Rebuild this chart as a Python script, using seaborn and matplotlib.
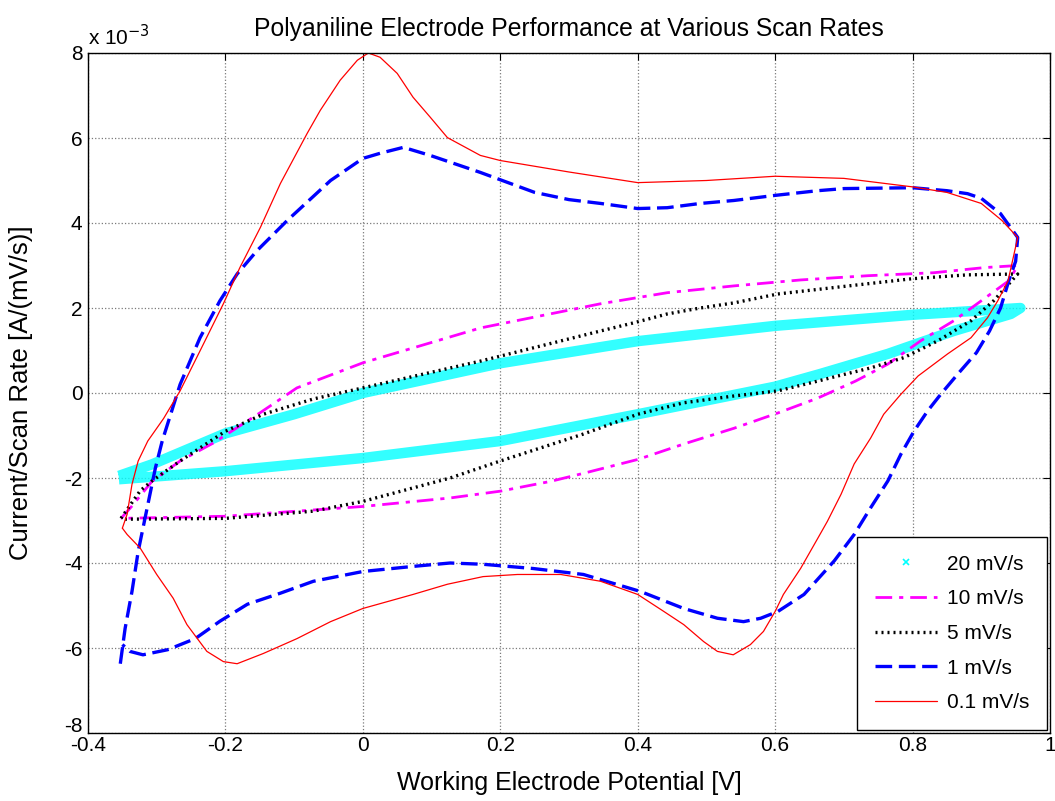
import numpy as np
import pandas as pd
import matplotlib
matplotlib.use("Agg")
import matplotlib.pyplot as plt
import matplotlib.transforms as mtransforms
from matplotlib.lines import Line2D
from matplotlib.ticker import FixedLocator, FuncFormatter
import seaborn as sns

# Cyclic voltammograms of a polyaniline electrode, current normalised by scan rate.
# Potentials in V, currents in units of 1e-3 A/(mV/s).

# 20 mV/s
e_20 = [-0.355, -0.307, -0.2, -0.1, 0.0, 0.2, 0.4, 0.6, 0.8, 0.957,
        0.943, 0.86, 0.764, 0.666, 0.6, 0.4, 0.2, 0.0, -0.2, -0.355]
i_20 = [-1.95, -1.68, -0.95, -0.5, 0.0, 0.7, 1.22, 1.58, 1.84, 2.0,
        1.86, 1.46, 0.92, 0.45, 0.15, -0.5, -1.13, -1.53, -1.84, -2.03]

# 10 mV/s
e_10 = [-0.352, -0.336, -0.307, -0.266, -0.218, -0.15, -0.096, 0.0, 0.073, 0.171,
        0.346, 0.443, 0.54, 0.637, 0.735, 0.831, 0.904, 0.953,
        0.94, 0.9, 0.86, 0.812, 0.764, 0.717, 0.662, 0.604, 0.54, 0.467, 0.401,
        0.321, 0.273, 0.2, 0.127, 0.0, -0.2, -0.352]
i_10 = [-2.95, -2.66, -2.08, -1.6, -1.18, -0.47, 0.12, 0.71, 1.06, 1.53,
        2.1, 2.36, 2.52, 2.66, 2.76, 2.83, 2.95, 3.0,
        2.64, 2.17, 1.7, 1.23, 0.68, 0.28, -0.12, -0.47, -0.83, -1.2, -1.56,
        -1.89, -2.08, -2.31, -2.47, -2.67, -2.9, -2.95]

# 5 mV/s
e_5 = [-0.352, -0.324, -0.307, -0.266, -0.2, -0.145, -0.072, 0.0, 0.171, 0.346,
       0.394, 0.443, 0.491, 0.54, 0.604, 0.685, 0.8, 0.88, 0.953,
       0.918, 0.885, 0.837, 0.787, 0.739, 0.691, 0.662, 0.604, 0.54, 0.467, 0.4,
       0.32, 0.2, 0.127, 0.0, -0.072, -0.2, -0.352]
i_5 = [-2.95, -2.3, -2.07, -1.6, -0.9, -0.5, -0.14, 0.12, 0.75, 1.46,
       1.65, 1.86, 2.0, 2.12, 2.33, 2.48, 2.69, 2.78, 2.8,
       2.17, 1.7, 1.23, 0.83, 0.59, 0.4, 0.28, 0.05, -0.07, -0.23, -0.5,
       -0.97, -1.6, -2.0, -2.55, -2.78, -2.95, -2.97]

# 1 mV/s
e_1 = [-0.353, -0.346, -0.336, -0.327, -0.314, -0.302, -0.292, -0.266, -0.237, -0.208,
       -0.183, -0.154, -0.11, -0.047, 0.0, 0.025, 0.059, 0.098, 0.171, 0.25,
       0.3, 0.346, 0.4, 0.443, 0.491, 0.54, 0.6, 0.662, 0.7, 0.8,
       0.85, 0.88, 0.9, 0.928, 0.953,
       0.95, 0.94, 0.928, 0.912, 0.893, 0.866, 0.841, 0.822, 0.802, 0.783,
       0.764, 0.739, 0.715, 0.686, 0.676, 0.642, 0.604, 0.579, 0.554, 0.516,
       0.467, 0.404, 0.321, 0.248, 0.175, 0.127, 0.073, 0.0, -0.072, -0.12,
       -0.168, -0.208, -0.244, -0.284, -0.32, -0.339, -0.35]
i_1 = [-6.37, -5.54, -4.67, -3.73, -2.71, -1.77, -1.13, 0.2, 1.3, 2.17,
       2.8, 3.35, 4.06, 5.0, 5.52, 5.64, 5.78, 5.59, 5.19, 4.72,
       4.55, 4.46, 4.34, 4.36, 4.46, 4.53, 4.65, 4.76, 4.81, 4.83,
       4.76, 4.69, 4.58, 4.22, 3.66,
       3.1, 2.64, 2.0, 1.46, 0.95, 0.45, -0.03, -0.42, -0.9, -1.44,
       -2.07, -2.7, -3.33, -3.95, -4.13, -4.74, -5.14, -5.3, -5.38, -5.3,
       -5.07, -4.67, -4.27, -4.13, -4.03, -4.0, -4.08, -4.2, -4.43, -4.71,
       -4.97, -5.37, -5.78, -6.04, -6.16, -6.08, -5.92]

# 0.1 mV/s
e_01 = [-0.35, -0.343, -0.336, -0.327, -0.313, -0.29, -0.266, -0.237, -0.203, -0.179,
        -0.149, -0.12, -0.081, -0.062, -0.033, -0.008, 0.008, 0.025, 0.05, 0.073,
        0.098, 0.123, 0.171, 0.2, 0.3, 0.4, 0.5, 0.6, 0.7, 0.8,
        0.85, 0.9, 0.93, 0.953,
        0.939, 0.924, 0.909, 0.885, 0.851, 0.808, 0.783, 0.758, 0.739, 0.715,
        0.696, 0.676, 0.662, 0.637, 0.612, 0.6, 0.583, 0.564, 0.539, 0.516,
        0.496, 0.467, 0.438, 0.4, 0.346, 0.288, 0.225, 0.175, 0.123, 0.073,
        0.0, -0.047, -0.096, -0.145, -0.183, -0.203, -0.227, -0.256, -0.276, -0.3,
        -0.324, -0.343, -0.35]
i_01 = [-3.18, -2.85, -2.15, -1.6, -1.13, -0.6, 0.05, 0.99, 2.1, 2.95,
        3.9, 4.93, 6.11, 6.65, 7.36, 7.83, 8.0, 7.9, 7.52, 6.96,
        6.49, 6.01, 5.59, 5.47, 5.2, 4.95, 5.0, 5.1, 5.05, 4.85,
        4.72, 4.46, 4.06, 3.66,
        2.64, 2.17, 1.77, 1.3, 0.92, 0.4, -0.03, -0.5, -1.06, -1.67,
        -2.38, -3.02, -3.42, -4.13, -4.74, -5.14, -5.61, -5.92, -6.16, -6.08,
        -5.85, -5.45, -5.14, -4.74, -4.43, -4.27, -4.27, -4.32, -4.5, -4.74,
        -5.07, -5.38, -5.78, -6.13, -6.37, -6.32, -6.08, -5.45, -4.83, -4.27,
        -3.65, -3.33, -3.18]

labels = ["20 mV/s", "10 mV/s", "5 mV/s", "1 mV/s", "0.1 mV/s"]
x_ticks = [-0.4, -0.2, 0, 0.2, 0.4, 0.6, 0.8, 1.0]
y_ticks = [-8, -6, -4, -2, 0, 2, 4, 6, 8]

sns.set_theme(style="white")
plt.rcParams["font.family"] = ["Liberation Sans", "DejaVu Sans"]
plt.rcParams.update({"text.color": "black", "axes.labelcolor": "black",
                     "xtick.color": "black", "ytick.color": "black"})

fig = plt.figure(figsize=(10.55, 8.01), dpi=100)
ax = fig.add_axes([88 / 1055, 68 / 801, 962 / 1055, 680 / 801])


def frame(e, i, label):
    return pd.DataFrame({"E": e, "I": np.asarray(i) * 1e-3,
                         "step": np.arange(len(e)), "rate": label})


dash_10 = (6, 2.5, 1.5, 2.5)
dash_5 = (0.6, 1.2)
dash_1 = (5, 2.0)

series = [
    (frame(e_20, i_20, labels[0]), dict(color="#00ffff", lw=7.5, linestyle="-",
                                        alpha=0.8, solid_capstyle="butt")),
    (frame(e_10, i_10, labels[1]), dict(color="#ff00ff", lw=2, dashes=dash_10)),
    (frame(e_5, i_5, labels[2]), dict(color="black", lw=2.4, dashes=dash_5)),
    (frame(e_1, i_1, labels[3]), dict(color="#0000ff", lw=2.4, dashes=dash_1)),
    (frame(e_01, i_01, labels[4]), dict(color="#ff0000", lw=0.9, linestyle="-")),
]

for df, style in series:
    sns.lineplot(data=df, x="E", y="I", sort=False, estimator=None,
                 ax=ax, legend=False, **style)

ax.set_xlim(-0.4, 1.0)
ax.set_ylim(-8e-3, 8e-3)
ax.xaxis.set_major_locator(FixedLocator(x_ticks))
ax.yaxis.set_major_locator(FixedLocator([v * 1e-3 for v in y_ticks]))
ax.xaxis.set_major_formatter(FuncFormatter(lambda v, p: f"{v:g}" if abs(v) > 1e-9 else "0"))
ax.yaxis.set_major_formatter(FuncFormatter(lambda v, p: f"{round(v * 1e3):d}"))

ax.grid(True, linestyle=":", color="#7a7a7a", linewidth=0.9)
ax.tick_params(direction="in", length=5, width=0.8, top=True, right=True,
               labelsize=15, colors="black")
ax.tick_params(axis="x", pad=2)
ax.tick_params(axis="y", pad=4)
for s in ax.spines.values():
    s.set_visible(True)
    s.set_color("black")
    s.set_linewidth(1.0)

# lift the lowest y label so it clears the first x label
lift = mtransforms.ScaledTranslation(0, 8 / 100, fig.dpi_scale_trans)
lowest = ax.yaxis.get_major_ticks()[0].label1
lowest.set_transform(lowest.get_transform() + lift)

ax.set_title("Polyaniline Electrode Performance at Various Scan Rates",
             fontsize=17.8, pad=12)
ax.set_xlabel("Working Electrode Potential [V]", fontsize=18, labelpad=12)
ax.set_ylabel("Current/Scan Rate [A/(mV/s)]", fontsize=18.5, labelpad=22)
ax.text(0.0, 1.005, r"x 10$^{-3}$", transform=ax.transAxes, fontsize=15,
        ha="left", va="bottom")

handles = [
    Line2D([], [], color="#00ffff", marker="x", linestyle="none", markersize=5, mew=1.2),
    Line2D([], [], color="#ff00ff", lw=2, dashes=dash_10),
    Line2D([], [], color="black", lw=2.4, dashes=dash_5),
    Line2D([], [], color="#0000ff", lw=2.4, dashes=dash_1),
    Line2D([], [], color="#ff0000", lw=0.9),
]
leg = ax.legend(handles, labels, loc="lower right", bbox_to_anchor=(1.0, 0.0),
                borderaxespad=0.15, fontsize=15, frameon=True, fancybox=False,
                handlelength=3.0, handletextpad=0.45, labelspacing=0.75,
                borderpad=0.85)
leg.get_frame().set_edgecolor("black")
leg.get_frame().set_linewidth(1.0)
leg.get_frame().set_alpha(1.0)

fig.savefig("out.png", dpi=100, facecolor="white")
